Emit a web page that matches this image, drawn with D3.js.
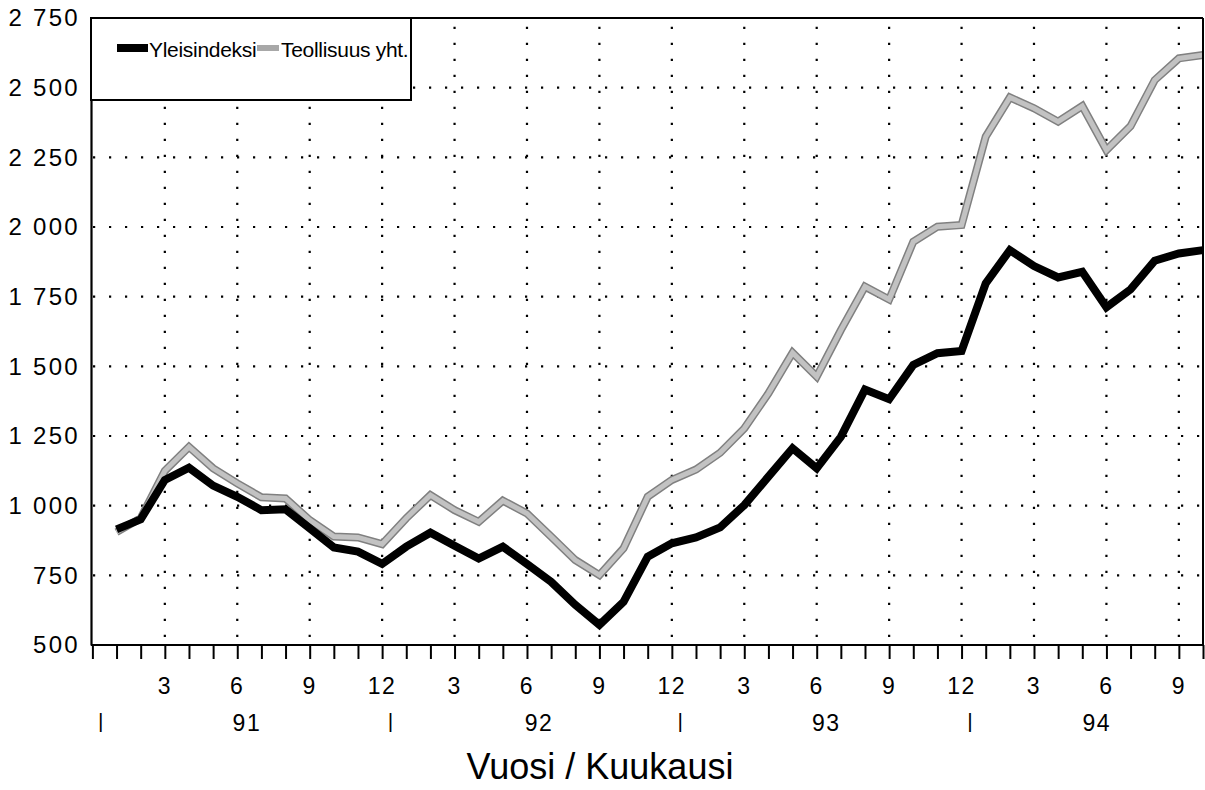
<!DOCTYPE html>
<html>
<head>
<meta charset="utf-8">
<script src="https://cdn.jsdelivr.net/npm/d3@7"></script>
<style>
  html, body { margin: 0; padding: 0; background: #fff; }
  svg { display: block; font-family: "Liberation Sans", Arial, Helvetica, sans-serif; }
</style>
</head>
<body>
<svg id="chart" width="1205" height="790"></svg>
<script>
// ---- data (month index 1 = Jan 1991 ... 46 = Oct 1994) ----
const months = d3.range(1, 47);
const yleisindeksi = [
  915, 951, 1092, 1136, 1072, 1032, 984, 987, 919, 850, 835, 791,
  853, 903, 856, 810, 853, 791, 727, 644, 572, 655, 817, 865,
  886, 922, 1002, 1104, 1206, 1134, 1247, 1417, 1382, 1505, 1547, 1555,
  1798, 1917, 1860, 1819, 1839, 1712, 1776, 1879, 1905, 1917
];
const teollisuus = [
  905, 955, 1125, 1211, 1134, 1080, 1030, 1026, 948, 889, 886, 862,
  955, 1038, 984, 942, 1018, 972, 889, 805, 751, 847, 1032, 1092,
  1130, 1190, 1277, 1403, 1549, 1463, 1630, 1786, 1740, 1947, 2001, 2007,
  2324, 2465, 2426, 2378, 2434, 2276, 2362, 2527, 2605, 2617
];
const yTickValues = [500, 750, 1000, 1250, 1500, 1750, 2000, 2250, 2500, 2750];
const yTickLabels = ["500", "750", "1 000", "1 250", "1 500", "1 750", "2 000", "2 250", "2 500", "2 750"];
const monthTickValues = [3, 6, 9, 12, 15, 18, 21, 24, 27, 30, 33, 36, 39, 42, 45];
const monthTickLabels = ["3", "6", "9", "12", "3", "6", "9", "12", "3", "6", "9", "12", "3", "6", "9"];
const yearMarkPos = [0.35, 12.35, 24.35, 36.35];
const yearLabels = ["91", "92", "93", "94"];
const yearLabelPos = [6.4, 18.5, 30.4, 41.6];
const seriesNames = ["Yleisindeksi", "Teollisuus yht."];
const xTitle = "Vuosi / Kuukausi";

// ---- layout ----
const L = 91, R = 1203, T = 18, B = 645;
const svg = d3.select("#chart");
const x = d3.scaleLinear().domain([0, 46]).range([L + 1.4, R]);
const y = d3.scaleLinear().domain([500, 2750]).range([B, T]);

// gridlines (dotted)
const grid = svg.append("g");
grid.selectAll("line.h").data(yTickValues.slice(1, -1)).join("line")
  .attr("x1", L).attr("x2", R).attr("y1", d => y(d)).attr("y2", d => y(d))
  .attr("stroke", "#000").attr("stroke-width", 2.2)
  .attr("stroke-dasharray", "2.2,13.8").attr("stroke-dashoffset", -2);
grid.selectAll("line.v").data(monthTickValues).join("line")
  .attr("x1", d => x(d)).attr("x2", d => x(d)).attr("y1", B).attr("y2", T)
  .attr("stroke", "#000").attr("stroke-width", 2.2)
  .attr("stroke-dasharray", "2.2,13.8").attr("stroke-dashoffset", -8);

// lines
const line = d3.line().x((d, i) => x(months[i])).y(d => y(d));
svg.append("path").datum(teollisuus).attr("d", line)
  .attr("fill", "none").attr("stroke", "#808080").attr("stroke-width", 8)
  .attr("stroke-linejoin", "miter");
svg.append("path").datum(teollisuus).attr("d", line)
  .attr("fill", "none").attr("stroke", "#c2c2c2").attr("stroke-width", 5)
  .attr("stroke-linejoin", "miter");
svg.append("path").datum(yleisindeksi).attr("d", line)
  .attr("fill", "none").attr("stroke", "#000").attr("stroke-width", 8)
  .attr("stroke-linejoin", "miter");

// frame
svg.append("line").attr("x1", L).attr("x2", R).attr("y1", T).attr("y2", T)
  .attr("stroke", "#000").attr("stroke-width", 2);
svg.append("line").attr("x1", R).attr("x2", R).attr("y1", T).attr("y2", B)
  .attr("stroke", "#000").attr("stroke-width", 2);

// x axis with monthly ticks
const xAxis = d3.axisBottom(x).tickValues(d3.range(0, 47)).tickSize(14).tickFormat("");
const gx = svg.append("g").attr("transform", `translate(0,${B})`).call(xAxis);
gx.select(".domain").attr("stroke-width", 2.2).attr("d", `M${L},0H${R}`);
gx.selectAll(".tick line").attr("stroke-width", 2);

// y axis
const yAxis = d3.axisLeft(y).tickValues(yTickValues).tickSize(0).tickPadding(11)
  .tickFormat((d, i) => yTickLabels[i]);
const gy = svg.append("g").attr("transform", `translate(${L},0)`).call(yAxis);
gy.select(".domain").attr("stroke-width", 2.2);
gy.selectAll("text").attr("font-size", 24).attr("letter-spacing", 2.3)
  .attr("fill", "#000").attr("font-family", "Liberation Sans, Arial, sans-serif");

// month labels
svg.append("g").selectAll("text").data(monthTickValues).join("text")
  .attr("x", d => x(d)).attr("y", 694).attr("text-anchor", "middle")
  .attr("font-size", 23).attr("letter-spacing", 1.5)
  .text((d, i) => monthTickLabels[i]);
// year marks and labels
svg.append("g").selectAll("text").data(yearMarkPos).join("text")
  .attr("x", d => x(d)).attr("y", 728).attr("text-anchor", "middle")
  .attr("font-size", 21).text("|");
svg.append("g").selectAll("text").data(yearLabels).join("text")
  .attr("x", (d, i) => x(yearLabelPos[i])).attr("y", 731).attr("text-anchor", "middle")
  .attr("font-size", 23).attr("letter-spacing", 1.5).text(d => d);

// axis title
svg.append("text").attr("x", 600).attr("y", 779).attr("text-anchor", "middle")
  .attr("font-size", 36).text(xTitle);

// legend
const lg = svg.append("g");
lg.append("rect").attr("x", L).attr("y", T).attr("width", 320).attr("height", 82)
  .attr("fill", "#fff").attr("stroke", "#000").attr("stroke-width", 2);
lg.append("line").attr("x1", 117).attr("x2", 148).attr("y1", 48).attr("y2", 48)
  .attr("stroke", "#000").attr("stroke-width", 8);
lg.append("text").attr("x", 149).attr("y", 57).attr("font-size", 21)
  .attr("letter-spacing", -0.3).text(seriesNames[0]);
lg.append("line").attr("x1", 257).attr("x2", 279).attr("y1", 48).attr("y2", 48)
  .attr("stroke", "#a8a8a8").attr("stroke-width", 6);
lg.append("text").attr("x", 281).attr("y", 57).attr("font-size", 21)
  .attr("letter-spacing", -0.3).text(seriesNames[1]);
</script>
</body>
</html>
